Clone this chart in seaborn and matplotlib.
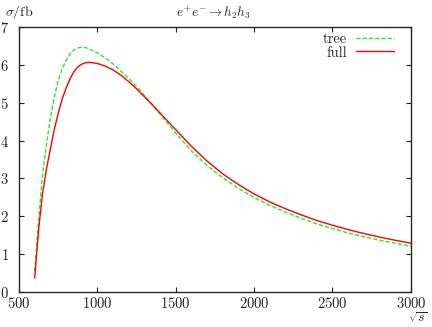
"""Cross section e+e- -> h2 h3, tree vs full."""

import matplotlib
matplotlib.use("Agg")
import matplotlib.pyplot as plt
import pandas as pd
import seaborn as sns

# sqrt(s) in GeV
sqrt_s = [600, 625, 650, 675, 700, 725, 750, 775, 800, 825, 850, 875, 900, 925, 950,
          1000, 1050, 1100, 1150, 1200, 1250, 1300, 1350, 1400, 1450, 1500,
          1600, 1700, 1800, 1900, 2000, 2100, 2200, 2300, 2400, 2500,
          2600, 2700, 2800, 2900, 3000]
# sigma in fb
sigma_tree = [0.55, 1.9, 3.1, 3.9, 4.6, 5.15, 5.58, 5.9, 6.12, 6.29, 6.40, 6.45, 6.47, 6.46, 6.42,
              6.32, 6.19, 6.03, 5.84, 5.64, 5.43, 5.20, 4.95, 4.70, 4.45, 4.20,
              3.73, 3.34, 3.02, 2.74, 2.50, 2.29, 2.11, 1.95, 1.80, 1.68,
              1.56, 1.46, 1.37, 1.29, 1.21]
sigma_full = [0.37, 1.65, 2.6, 3.25, 3.78, 4.3, 4.72, 5.1, 5.38, 5.63, 5.82, 5.95, 6.02, 6.06, 6.07,
              6.04, 5.97, 5.87, 5.73, 5.56, 5.37, 5.16, 4.95, 4.73, 4.51, 4.29,
              3.85, 3.46, 3.12, 2.84, 2.59, 2.38, 2.20, 2.04, 1.89, 1.765,
              1.65, 1.546, 1.452, 1.367, 1.29]
series = ["tree", "full"]

df = pd.concat([
    pd.DataFrame({"sqrt_s": sqrt_s, "sigma": sigma_tree, "curve": series[0]}),
    pd.DataFrame({"sqrt_s": sqrt_s, "sigma": sigma_full, "curve": series[1]}),
])

sns.set_style("ticks")
plt.rcParams["font.family"] = ["cmr10", "DejaVu Serif"]
plt.rcParams["mathtext.fontset"] = "cm"
plt.rcParams["axes.formatter.use_mathtext"] = True

fig = plt.figure(figsize=(4.32, 3.27), dpi=100)
ax = fig.add_axes([0.044, 0.107, 0.907, 0.810])

sns.lineplot(
    data=df, x="sqrt_s", y="sigma", hue="curve", style="curve",
    palette={"tree": "#22ee22", "full": "#ff0000"},
    dashes={"tree": (3, 1.5), "full": ""},
    linewidth=1.0, ax=ax, sort=False, estimator=None,
)

ax.set_xlim(500, 3000)
ax.set_ylim(0, 7)
ax.set_xticks(range(500, 3001, 500))
ax.set_yticks(range(0, 8))
ax.set_xlabel("")
ax.set_ylabel("")
ax.tick_params(direction="in", length=3.5, width=0.8, top=True, right=True,
               labelsize=10.5, pad=3, colors="#222222")
ax.tick_params(axis="y", pad=7.5)
for sp in ax.spines.values():
    sp.set_linewidth(1.0)
    sp.set_visible(True)

leg = ax.legend(loc="upper right", frameon=False, markerfirst=False,
                bbox_to_anchor=(1 - 17 / 392, 1 - 5 / 265),
                handlelength=2.6, fontsize=10.5, borderaxespad=0, borderpad=0,
                labelspacing=0.0, handletextpad=0.6)
for t in leg.get_texts():
    t.set_ha("right")

fig.text(0.012, 0.963, r"$\sigma/\mathrm{fb}$", fontsize=10, va="center", ha="left")
fig.text(0.495, 0.962, r"$e^{+}e^{-}\to h_2h_3$", fontsize=9.5, va="center", ha="center")
fig.text(0.968, 0.027, r"$\sqrt{s}$", fontsize=10, va="center", ha="center")

fig.savefig("out.png", dpi=100)
